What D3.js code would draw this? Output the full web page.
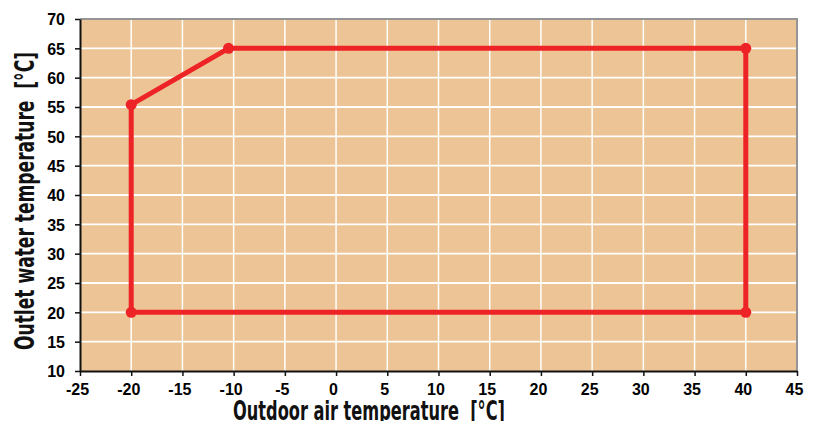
<!DOCTYPE html>
<html>
<head>
<meta charset="utf-8">
<script src="https://cdn.jsdelivr.net/npm/d3@7"></script>
<style>
  html, body { margin: 0; padding: 0; background: #fff; }
  svg { display: block; }
</style>
</head>
<body>
<svg id="chart" width="820" height="421"></svg>
<script>
// Operating envelope: outdoor air temperature vs. outlet water temperature
const envelopeX = [-20, -10.5, 40, 40, -20, -20];
const envelopeY = [55.4, 65, 65, 20, 20, 55.4];
const xTicks = [-25, -20, -15, -10, -5, 0, 5, 10, 15, 20, 25, 30, 35, 40, 45];
const yTicks = [10, 15, 20, 25, 30, 35, 40, 45, 50, 55, 60, 65, 70];
const xTitle = "Outdoor air temperature  [°C]";
const yTitle = "Outlet water temperature  [°C]";

const margin = { left: 80, top: 19, right: 23, bottom: 50 };
const W = 820, H = 421;
const svg = d3.select("#chart");

const x = d3.scaleLinear().domain([-25, 45]).range([margin.left, W - margin.right]);
const y = d3.scaleLinear().domain([10, 70]).range([H - margin.bottom, margin.top]);

// plot background
svg.append("rect")
  .attr("x", x(-25)).attr("y", y(70))
  .attr("width", x(45) - x(-25)).attr("height", y(10) - y(70))
  .attr("fill", "#ECC495");

// grid
svg.append("g").selectAll("line").data(xTicks.slice(1, -1)).join("line")
  .attr("x1", d => x(d)).attr("x2", d => x(d))
  .attr("y1", y(70)).attr("y2", y(10))
  .attr("stroke", "#fff").attr("stroke-width", 1.5);
svg.append("g").selectAll("line").data(yTicks.slice(1, -1)).join("line")
  .attr("x1", x(-25)).attr("x2", x(45))
  .attr("y1", d => y(d)).attr("y2", d => y(d))
  .attr("stroke", "#fff").attr("stroke-width", 1.8);

// top and right frame
svg.append("path")
  .attr("d", `M${x(-25)},${y(70)}H${x(45)}V${y(10)}`)
  .attr("fill", "none").attr("stroke", "#959595").attr("stroke-width", 2);

// axes
const fmt = d => String(d);
const xAxis = svg.append("g")
  .attr("transform", `translate(0,${y(10)})`)
  .call(d3.axisBottom(x).tickValues(xTicks).tickFormat(fmt).tickSize(5).tickPadding(7).tickSizeOuter(0));
const yAxis = svg.append("g")
  .attr("transform", `translate(${x(-25)},0)`)
  .call(d3.axisLeft(y).tickValues(yTicks).tickFormat(fmt).tickSize(5).tickPadding(10).tickSizeOuter(0));
[xAxis, yAxis].forEach(g => {
  g.attr("font-family", "'Liberation Sans', Arial, sans-serif")
   .attr("font-size", 16).attr("font-weight", "bold");
  g.select(".domain").attr("stroke", "#111").attr("stroke-width", 2);
  g.selectAll(".tick line").attr("stroke", "#111").attr("stroke-width", 1.5);
  g.selectAll(".tick text").attr("fill", "#000");
});
xAxis.selectAll(".tick text").attr("dy", "0.72em").attr("dx", -3);
yAxis.selectAll(".tick text").attr("dy", "0.36em");

// envelope
const pts = envelopeX.map((v, i) => [v, envelopeY[i]]);
svg.append("path")
  .datum(pts)
  .attr("d", d3.line().x(d => x(d[0])).y(d => y(d[1])))
  .attr("fill", "none").attr("stroke", "#EE2326")
  .attr("stroke-width", 5).attr("stroke-linejoin", "round");
svg.append("g").selectAll("circle").data(pts.slice(0, 5)).join("circle")
  .attr("cx", d => x(d[0])).attr("cy", d => y(d[1]))
  .attr("r", 5.5).attr("fill", "#EE2326");

// axis titles (condensed bold)
function title(sel, len) {
  sel.attr("font-family", "'DejaVu Sans', sans-serif")
     .attr("font-weight", "bold").attr("font-size", 26)
     .attr("fill", "#111").attr("text-anchor", "middle")
     .attr("xml:space", "preserve").style("white-space", "pre")
     .attr("textLength", len).attr("lengthAdjust", "spacingAndGlyphs");
}
svg.append("text")
  .attr("x", 369).attr("y", 420)
  .text(xTitle).call(title, 272);
svg.append("text")
  .attr("transform", `translate(34,201) rotate(-90)`)
  .text(yTitle).call(title, 298);
</script>
</body>
</html>
